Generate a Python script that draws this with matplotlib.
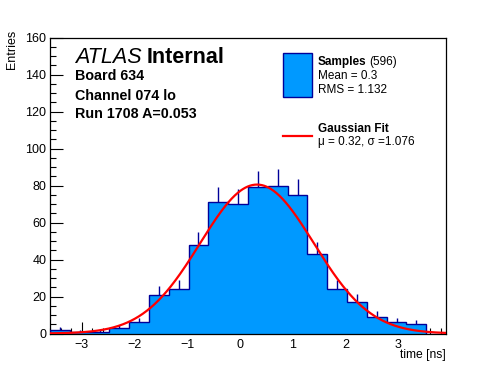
import numpy as np
import matplotlib
matplotlib.use("Agg")
import matplotlib.pyplot as plt
from matplotlib.patches import Rectangle
from matplotlib.lines import Line2D

plt.rcParams['font.family'] = ['Liberation Sans', 'DejaVu Sans']

# histogram of sample times, 20 bins from -3.6 to 3.9 ns
bin_edges = np.linspace(-3.6, 3.9, 21)
counts = [2, 1, 1, 3, 6, 21, 24, 48, 71, 70, 79, 80, 75, 43, 24, 17, 9, 6, 5, 0]

# gaussian fit result
fit_amp = 80.5
fit_mu = 0.32
fit_sigma = 1.076

fill_col = '#0099ff'
edge_col = '#000099'

W, H = 496, 372
fig = plt.figure(figsize=(W / 100, H / 100), dpi=100)
ax = fig.add_axes([50 / W, (H - 333.5) / H, 396 / W, 296 / H])

counts = np.array(counts, dtype=float)
ax.stairs(counts, bin_edges, fill=True, color=fill_col, zorder=2)
ax.stairs(counts, bin_edges, color=edge_col, lw=1.0, zorder=3)

centers = 0.5 * (bin_edges[:-1] + bin_edges[1:])
m = counts > 0
ax.vlines(centers[m], counts[m], counts[m] + np.sqrt(counts[m]), color=edge_col, lw=1.0, zorder=3)

xs = np.linspace(-3.6, 3.9, 500)
ax.plot(xs, fit_amp * np.exp(-0.5 * ((xs - fit_mu) / fit_sigma) ** 2), color='red', lw=1.6, zorder=4)

ax.set_xlim(-3.6, 3.9)
ax.set_ylim(0, 160)
ax.set_xticks(np.arange(-3, 4, 1))
ax.set_xticklabels(['\u22123', '\u22122', '\u22121', '0', '1', '2', '3'])
ax.set_xticks(np.arange(-3.6, 3.91, 0.2), minor=True)
ax.set_yticks(np.arange(0, 161, 20))
ax.set_yticks(np.arange(0, 161, 5), minor=True)
ax.tick_params(which='both', direction='in', top=False, right=False, labelsize=9, width=0.8, color='black')
ax.tick_params(which='major', length=9)
ax.tick_params(axis='y', pad=2.5)
ax.tick_params(axis='x', pad=4)
ax.tick_params(which='minor', length=4.5)
for s in ax.spines.values():
    s.set_linewidth(0.9)

fig.text(12 / W, 1 - 30 / H, 'Entries', rotation=90, ha='center', va='top', fontsize=9)
fig.text(446 / W, 1 - 355 / H, 'time [ns]', ha='right', va='center', fontsize=8.7)


def text_pair(x, y, first, second, size, kw1, kw2, gap=4):
    # second piece placed right after the first one
    t1 = fig.text(x / W, 1 - y / H, first, fontsize=size, va='baseline', **kw1)
    fig.canvas.draw()
    bb = t1.get_window_extent()
    fig.text((bb.x1 + gap) / W, 1 - y / H, second, fontsize=size, va='baseline', **kw2)


# ATLAS label block
text_pair(75, 63, 'ATLAS', 'Internal', 15.5, {'style': 'italic'}, {'weight': 'bold'}, gap=5)
fig.text(75 / W, 1 - 76 / H, 'Board 634', fontsize=10.3, weight='bold', va='center')
fig.text(75 / W, 1 - 95.5 / H, 'Channel 074 lo', fontsize=10.3, weight='bold', va='center')
fig.text(75 / W, 1 - 114.5 / H, 'Run 1708 A=0.053', fontsize=10.3, weight='bold', va='center')

# legend
fig.patches.append(Rectangle((283 / W, 1 - 97 / H), 29 / W, 44 / H, transform=fig.transFigure,
                             facecolor=fill_col, edgecolor=edge_col, lw=1.0))
text_pair(318, 64.5, 'Samples', '(596)', 8.5, {'weight': 'bold'}, {}, gap=3)
fig.text(318 / W, 1 - 76 / H, 'Mean = 0.3', fontsize=8.5, va='center')
fig.text(318 / W, 1 - 90 / H, 'RMS = 1.132', fontsize=8.5, va='center')
fig.lines.append(Line2D([283 / W, 312 / W], [1 - 136 / H, 1 - 136 / H], transform=fig.transFigure,
                        color='red', lw=1.6))
fig.text(318 / W, 1 - 128.5 / H, 'Gaussian Fit', fontsize=8.5, weight='bold', va='center')
fig.text(318 / W, 1 - 142 / H, '\u03bc = 0.32, \u03c3 =1.076', fontsize=8.5, va='center')

fig.savefig('out.png', dpi=100)
